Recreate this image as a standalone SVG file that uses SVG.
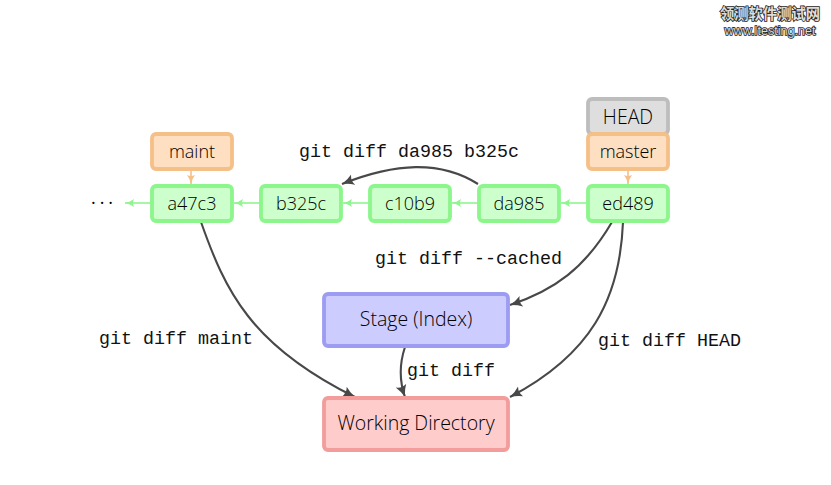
<svg xmlns="http://www.w3.org/2000/svg" width="831" height="485" viewBox="0 0 831 485">
<style>
text{text-anchor:middle;fill:#000}
.n{font-family:"Open Sans","Noto Sans",sans-serif;font-weight:300;font-size:18px}
.b{font-family:"Open Sans","Noto Sans",sans-serif;font-weight:300;font-size:19.5px}
.m{font-family:"Liberation Mono",monospace;font-size:18.33px;text-anchor:start;fill:#111}
rect{stroke-width:3.8}
.c{fill:#ccffcc;stroke:#8cf58c}
.o{fill:#ffdfc2;stroke:#f5bf88}
.g{fill:#dedede;stroke:#bdbdbd}
.s{fill:#ccccff;stroke:#9c9cf2}
.w{fill:#ffcccc;stroke:#f29c9c}
.e{fill:none;stroke:#484848;stroke-width:2.1;marker-end:url(#ah)}
.l{fill:none;stroke:#8ff58f;stroke-width:1.6;marker-end:url(#ag)}
.r{fill:none;stroke:#f5bf88;stroke-width:1.6;marker-end:url(#ao)}
.wm{font-family:"Noto Sans CJK SC",sans-serif;font-weight:700;font-size:14.3px;fill:#ddd;stroke:#222;stroke-width:1.6;paint-order:stroke}
.wl{font-family:"Liberation Sans",sans-serif;font-size:12.6px;fill:#ddd;stroke:#222;stroke-width:1.5;paint-order:stroke}
</style>
<defs>
<marker id="ah" markerUnits="userSpaceOnUse" markerWidth="14" markerHeight="12" refX="12" refY="6" orient="auto"><path d="M0 .5Q5 4 12 6Q5 8 0 11.500Q3 6 0 .5Z" fill="#484848"/></marker>
<marker id="ag" markerUnits="userSpaceOnUse" markerWidth="10" markerHeight="10" refX="9" refY="5" orient="auto"><path d="M0 1Q4 4 9 5Q4 6 0 9Q2 5 0 1Z" fill="#8ff58f"/></marker>
<marker id="ao" markerUnits="userSpaceOnUse" markerWidth="10" markerHeight="10" refX="9" refY="5" orient="auto"><path d="M0 1Q4 4 9 5Q4 6 0 9Q2 5 0 1Z" fill="#f5bf88"/></marker>
</defs>
<g id="connectors">
<path class="l" d="M151 203H125"/>
<path class="l" d="M260 203H234"/>
<path class="l" d="M369 203H343"/>
<path class="l" d="M478 203H452"/>
<path class="l" d="M587 203H561"/>
<path class="r" d="M191 170V184"/>
<path class="r" d="M628 170V184"/>
<path class="e" d="M478 184C440 160 395 163 342 184"/>
<path class="e" d="M612 222C585 268 555 290 510 305"/>
<path class="e" d="M623 222C620 300 590 355 510 397"/>
<path class="e" d="M201 222C225 290 250 345 355 397"/>
<path class="e" d="M405 347C399 365 399 380 405 397"/>
</g>
<g id="n-head"><rect class="g" x="588" y="99" width="80" height="35" rx="4"/><text class="b" x="628" y="124">HEAD</text></g>
<g id="n-master"><rect class="o" x="588" y="134" width="80" height="35" rx="4"/><text class="n" x="628" y="158">master</text></g>
<g id="n-maint"><rect class="o" x="152" y="134" width="80" height="35" rx="4"/><text class="n" x="192" y="158">maint</text></g>
<g id="n-a47c3"><rect class="c" x="152" y="186" width="80" height="35" rx="4"/><text class="n" x="192" y="210">a47c3</text></g>
<g id="n-b325c"><rect class="c" x="261" y="186" width="80" height="35" rx="4"/><text class="n" x="301" y="210">b325c</text></g>
<g id="n-c10b9"><rect class="c" x="370" y="186" width="80" height="35" rx="4"/><text class="n" x="410" y="210">c10b9</text></g>
<g id="n-da985"><rect class="c" x="479" y="186" width="80" height="35" rx="4"/><text class="n" x="519" y="210">da985</text></g>
<g id="n-ed489"><rect class="c" x="588" y="186" width="80" height="35" rx="4"/><text class="n" x="628" y="210">ed489</text></g>
<g id="n-stage"><rect class="s" x="324" y="294" width="184" height="52" rx="4"/><text class="b" x="416" y="326">Stage (Index)</text></g>
<g id="n-wd"><rect class="w" x="324" y="398" width="184" height="52" rx="4"/><text class="b" x="416" y="430">Working Directory</text></g>
<g id="labels">
<text class="n" x="104" y="209" style="font-weight:400;letter-spacing:4px">···</text>
<text class="m" x="299" y="157">git diff da985 b325c</text>
<text class="m" x="375" y="264">git diff --cached</text>
<text class="m" x="99" y="344">git diff maint</text>
<text class="m" x="598" y="346">git diff HEAD</text>
<text class="m" x="407" y="376">git diff</text>
</g>
<g id="watermark">
<text class="wm" x="770" y="19">领测软件测试网</text>
<text class="wl" x="770" y="35">www.ltesting.net</text>
</g>
</svg>
